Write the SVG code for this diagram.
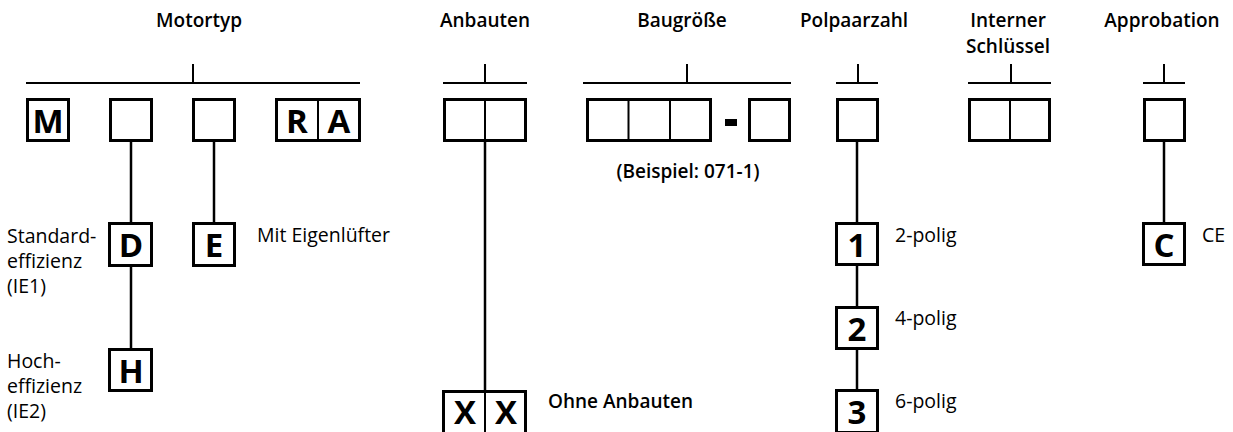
<svg xmlns="http://www.w3.org/2000/svg" width="1233" height="432" viewBox="0 0 1233 432">
<style>
.box{fill:#fff;stroke:#000;stroke-width:3}
.div{stroke:#000;stroke-width:2}
.ln{stroke:#000;stroke-width:2;fill:none}
.con{stroke:#000;stroke-width:2.5;fill:none}
.t{font-family:"Open Sans","Noto Sans",sans-serif;font-weight:600;font-size:19px;text-anchor:middle;fill:#000}
.l{font-family:"Open Sans","Noto Sans",sans-serif;font-weight:700;font-size:33px;text-anchor:middle;fill:#000}
.s{font-family:"Open Sans","Noto Sans",sans-serif;font-size:19.5px;fill:#000}
.b{font-family:"Open Sans","Noto Sans",sans-serif;font-weight:600;font-size:19px;fill:#000}
</style>
<rect width="1233" height="432" fill="#fff"/>
<g id="headers">
<text class="t" x="199" y="27">Motortyp</text>
<text class="t" x="485" y="27">Anbauten</text>
<text class="t" x="682" y="27">Baugröße</text>
<text class="t" x="854" y="27">Polpaarzahl</text>
<text class="t" x="1008" y="27">Interner</text>
<text class="t" x="1008" y="53">Schlüssel</text>
<text class="t" x="1162" y="27">Approbation</text>
</g>
<g id="connectors">
<path class="ln" d="M26 83H360M193 64V83"/>
<path class="ln" d="M443 83H527M485 64V83"/>
<path class="ln" d="M583 83H791M687 64V83"/>
<path class="ln" d="M836 83H878M858 64V83"/>
<path class="ln" d="M968 83H1051M1011 64V83"/>
<path class="ln" d="M1143 83H1185M1164 64V83"/>
<path class="con" d="M131 142V223M131 267V348"/>
<path class="con" d="M214 142V223"/>
<path class="con" d="M485 142V390"/>
<path class="con" d="M857 142V222M857 266V306M857 350V389"/>
<path class="con" d="M1164 142V222"/>
</g>
<g id="node-M"><rect class="box" x="27.5" y="99.5" width="41" height="41"/><text class="l" x="48" y="133">M</text></g>
<g id="node-motor2"><rect class="box" x="110.5" y="99.5" width="41" height="41"/></g>
<g id="node-motor3"><rect class="box" x="193.5" y="99.5" width="41" height="41"/></g>
<g id="node-RA"><rect class="box" x="276.5" y="99.5" width="83" height="41"/><line class="div" x1="318" y1="99" x2="318" y2="141"/><text class="l" x="297" y="133">R</text><text class="l" x="339" y="133">A</text></g>
<g id="node-anbauten"><rect class="box" x="444.5" y="99.5" width="81" height="41"/><line class="div" x1="485" y1="99" x2="485" y2="141"/></g>
<g id="node-baugroesse"><rect class="box" x="587.5" y="99.5" width="123" height="41"/><line class="div" x1="628.5" y1="99" x2="628.5" y2="141"/><line class="div" x1="670" y1="99" x2="670" y2="141"/><rect x="725" y="119" width="12" height="7" fill="#000"/><rect class="box" x="749.5" y="99.5" width="40" height="41"/><text class="b" x="688" y="178" text-anchor="middle">(Beispiel: 071-1)</text></g>
<g id="node-pol"><rect class="box" x="837.5" y="99.5" width="40" height="41"/></g>
<g id="node-intern"><rect class="box" x="969.5" y="99.5" width="80" height="41"/><line class="div" x1="1010" y1="99" x2="1010" y2="141"/></g>
<g id="node-approb"><rect class="box" x="1144.5" y="99.5" width="40" height="41"/></g>
<g id="node-D"><rect class="box" x="109.5" y="223.5" width="42" height="42"/><text class="l" x="131" y="257">D</text><text class="s" x="7" y="243">Standard-</text><text class="s" x="7" y="268">effizienz</text><text class="s" x="7" y="293">(IE1)</text></g>
<g id="node-E"><rect class="box" x="193.5" y="223.5" width="41" height="42"/><text class="l" x="214" y="257">E</text><text class="s" x="257" y="242">Mit Eigenlüfter</text></g>
<g id="node-H"><rect class="box" x="109.5" y="349.5" width="42" height="41"/><text class="l" x="131" y="383">H</text><text class="s" x="7" y="368">Hoch-</text><text class="s" x="7" y="393">effizienz</text><text class="s" x="7" y="418">(IE2)</text></g>
<g id="node-XX"><rect class="box" x="443.5" y="391.5" width="82" height="42"/><line class="div" x1="485" y1="391" x2="485" y2="434"/><text class="l" x="465" y="424">X</text><text class="l" x="506" y="424">X</text><text class="b" x="548" y="408">Ohne Anbauten</text></g>
<g id="node-1"><rect class="box" x="836.5" y="223.5" width="41" height="41"/><text class="l" x="857" y="257">1</text><text class="s" x="895" y="242">2-polig</text></g>
<g id="node-2"><rect class="box" x="836.5" y="307.5" width="41" height="41"/><text class="l" x="857" y="341">2</text><text class="s" x="895" y="325">4-polig</text></g>
<g id="node-3"><rect class="box" x="836.5" y="390.5" width="41" height="42"/><text class="l" x="857" y="424">3</text><text class="s" x="895" y="408">6-polig</text></g>
<g id="node-C"><rect class="box" x="1143.5" y="223.5" width="41" height="41"/><text class="l" x="1164" y="257">C</text><text class="s" x="1202" y="242">CE</text></g>
</svg>
